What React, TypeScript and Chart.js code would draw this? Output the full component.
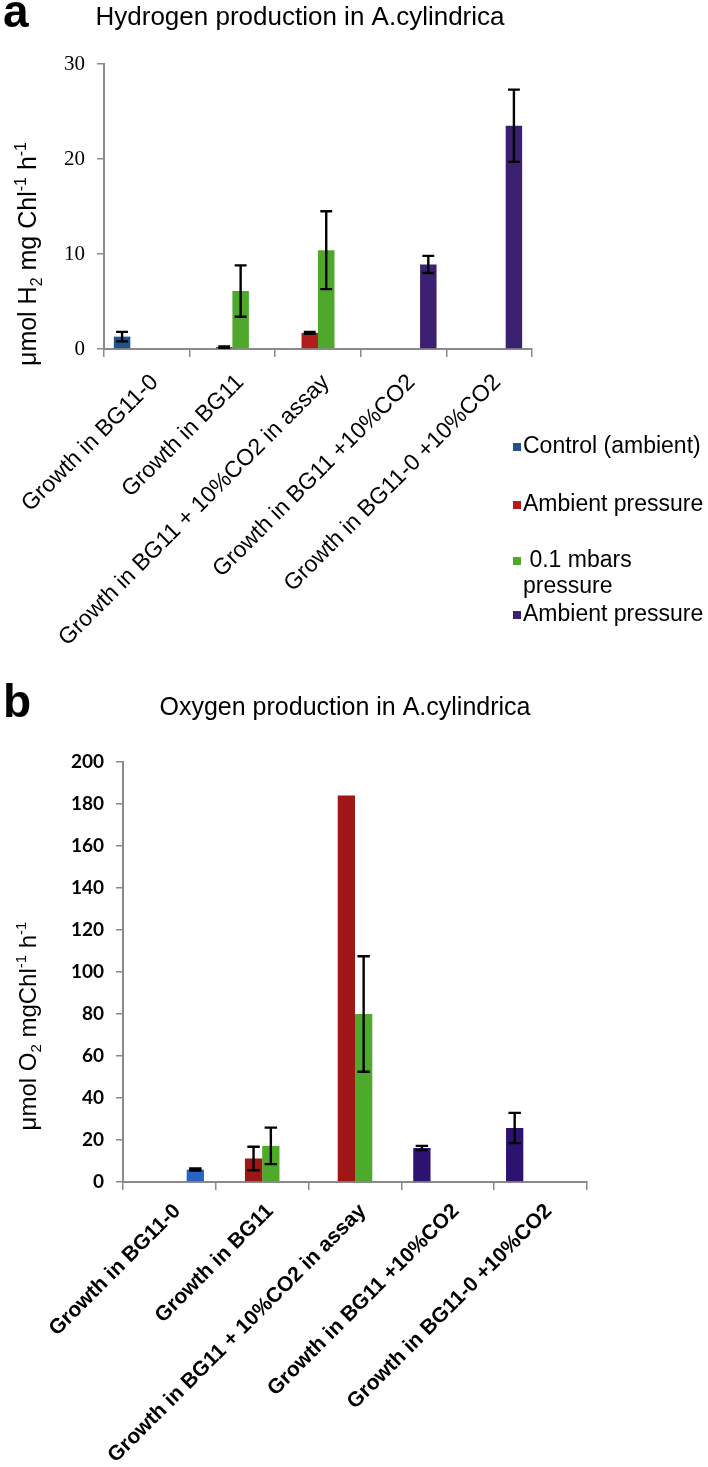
import React, { useEffect, useRef } from "react";
import { Chart, registerables } from "chart.js";

Chart.register(...registerables);

// ---------- data ----------
const categories = [
  "Growth in BG11-0",
  "Growth in BG11",
  "Growth in BG11 + 10%CO2 in assay",
  "Growth in BG11 +10%CO2",
  "Growth in BG11-0 +10%CO2",
];

const seriesLabels = ["Control (ambient)", "Ambient pressure", " 0.1 mbars\npressure", "Ambient pressure"];

// Panel a: hydrogen production (µmol H2 mg Chl-1 h-1)
const h2Control = [1.3, null, null, null, null];
const h2ControlErr = [0.5, null, null, null, null];
const h2Ambient = [null, 0.2, 1.7, null, null];
const h2AmbientErr = [null, 0.08, 0.1, null, null];
const h2LowPressure = [null, 6.1, 10.4, null, null];
const h2LowPressureErr = [null, 2.7, 4.1, null, null];
const h2Co2Ambient = [null, null, null, 8.9, 23.5];
const h2Co2AmbientErr = [null, null, null, 0.9, 3.8];

// Panel b: oxygen production (µmol O2 mgChl-1 h-1)
const o2Control = [5.9, null, null, null, null];
const o2ControlErr = [0.5, null, null, null, null];
const o2Ambient = [null, 11.2, 184, null, null];
const o2AmbientErr = [null, 5.6, 0, null, null];
const o2LowPressure = [null, 17.2, 80, null, null];
const o2LowPressureErr = [null, 8.7, 27.5, null, null];
const o2Co2Ambient = [null, null, null, 16.2, 25.7];
const o2Co2AmbientErr = [null, null, null, 1.0, 7.2];

const yTicksA = [0, 10, 20, 30];
const yTicksB = [0, 20, 40, 60, 80, 100, 120, 140, 160, 180, 200];

const panelLetterA = "a";
const panelLetterB = "b";
const titleA = "Hydrogen production in A.cylindrica";
const titleB = "Oxygen production in A.cylindrica";

type Seg = { t: string; k?: "sub" | "sup" };
const yTitleA: Seg[] = [
  { t: "μmol H" }, { t: "2", k: "sub" }, { t: " mg Chl" }, { t: "-1", k: "sup" }, { t: " h" }, { t: "-1", k: "sup" },
];
const yTitleB: Seg[] = [
  { t: "μmol O" }, { t: "2", k: "sub" }, { t: " mgChl" }, { t: "-1", k: "sup" }, { t: " h" }, { t: "-1", k: "sup" },
];

// ---------- styles ----------
const SANS = '"Liberation Sans", Arial, sans-serif';
const SERIF = '"Liberation Serif", "Times New Roman", serif';
const colorsA = ["#22528c", "#b11d1d", "#4ea82b", "#3c2072"];
const colorsB = ["#2863c6", "#9e1616", "#4daa2a", "#2e1272"];
const AXIS_GREY = "#8a8a8a";

function errorBars(errors: (number | null)[][]) {
  return {
    id: "errorBars",
    afterDatasetsDraw(chart: any) {
      const ctx = chart.ctx;
      const y = chart.scales.y;
      ctx.save();
      ctx.strokeStyle = "#000";
      ctx.lineWidth = 2.4;
      chart.data.datasets.forEach((ds: any, i: number) => {
        const meta = chart.getDatasetMeta(i);
        meta.data.forEach((bar: any, j: number) => {
          const v = ds.data[j];
          const e = errors[i][j];
          if (v == null || !e) return;
          const x = bar.x;
          const hw = bar.width * 0.36;
          const top = y.getPixelForValue(v + e);
          const bot = y.getPixelForValue(Math.max(v - e, 0));
          ctx.beginPath();
          ctx.moveTo(x, top);
          ctx.lineTo(x, bot);
          ctx.moveTo(x - hw, top);
          ctx.lineTo(x + hw, top);
          ctx.moveTo(x - hw, bot);
          ctx.lineTo(x + hw, bot);
          ctx.stroke();
        });
      });
      ctx.restore();
    },
  };
}

function drawRich(ctx: CanvasRenderingContext2D, segs: Seg[], size: number, weight: string, bx: number, cy: number) {
  ctx.save();
  ctx.translate(bx, cy);
  ctx.rotate(-Math.PI / 2);
  ctx.textAlign = "left";
  ctx.textBaseline = "alphabetic";
  const fontFor = (k?: string) => `${weight} ${k ? Math.round(size * 0.62) : size}px ${SANS}`;
  let total = 0;
  segs.forEach((s) => {
    ctx.font = fontFor(s.k);
    total += ctx.measureText(s.t).width;
  });
  let x = -total / 2;
  segs.forEach((s) => {
    ctx.font = fontFor(s.k);
    const dy = s.k === "sub" ? size * 0.22 : s.k === "sup" ? -size * 0.4 : 0;
    ctx.fillText(s.t, x, dy);
    x += ctx.measureText(s.t).width;
  });
  ctx.restore();
}

function decor(draw: (ctx: CanvasRenderingContext2D) => void) {
  return {
    id: "decor",
    afterDraw(chart: any) {
      const ctx = chart.ctx;
      ctx.save();
      ctx.fillStyle = "#000";
      draw(ctx);
      ctx.restore();
    },
  };
}

function drawA(ctx: CanvasRenderingContext2D) {
  ctx.textAlign = "left";
  ctx.textBaseline = "alphabetic";
  ctx.font = `bold 46px ${SANS}`;
  ctx.fillText(panelLetterA, 3, 27);
  ctx.font = `26px ${SANS}`;
  ctx.textAlign = "center";
  ctx.fillText(titleA, 300, 25);
  drawRich(ctx, yTitleA, 25, "normal", 36, 254);
  // legend
  const rowY = [447, 505, 561, 615];
  ctx.textAlign = "left";
  ctx.textBaseline = "middle";
  ctx.font = `23px ${SANS}`;
  seriesLabels.forEach((lab, i) => {
    ctx.fillStyle = colorsA[i];
    ctx.fillRect(513, rowY[i] - 4, 8, 8);
    ctx.fillStyle = "#000";
    lab.split("\n").forEach((line, k) => ctx.fillText(line, 523, rowY[i] + k * 26));
  });
}

function drawB(ctx: CanvasRenderingContext2D) {
  ctx.textAlign = "left";
  ctx.textBaseline = "alphabetic";
  ctx.font = `bold 46px ${SANS}`;
  ctx.fillText(panelLetterB, 3, 37);
  ctx.font = `25px ${SANS}`;
  ctx.textAlign = "center";
  ctx.fillText(titleB, 345, 35);
  drawRich(ctx, yTitleB, 24, "normal", 36, 346);
}

function makeConfig(opts: {
  datasets: any[];
  errors: (number | null)[][];
  catPct: number;
  padding: any;
  xHeight: number;
  yWidth: number;
  yMax: number;
  yStep: number;
  yTicks: number[];
  xFont: any;
  xPad: number;
  yFont: any;
  draw: (ctx: CanvasRenderingContext2D) => void;
}) {
  return {
    type: "bar" as const,
    data: { labels: categories, datasets: opts.datasets },
    options: {
      animation: false,
      responsive: false,
      devicePixelRatio: 1,
      layout: { padding: opts.padding },
      datasets: { bar: { categoryPercentage: opts.catPct, barPercentage: 1 } },
      plugins: { legend: { display: false }, tooltip: { enabled: false }, title: { display: false } },
      scales: {
        x: {
          type: "category",
          offset: true,
          grid: {
            display: true,
            drawOnChartArea: false,
            drawTicks: true,
            tickLength: 8,
            color: AXIS_GREY,
            lineWidth: 1.5,
            offset: true,
          },
          border: { display: true, color: AXIS_GREY, width: 2 },
          ticks: {
            autoSkip: false,
            minRotation: 45,
            maxRotation: 45,
            color: "#000",
            font: opts.xFont,
            padding: opts.xPad,
            labelOffset: 8,
          },
          afterFit: (s: any) => {
            s.height = opts.xHeight;
            s.paddingLeft = 0;
            s.paddingRight = 0;
          },
        },
        y: {
          min: 0,
          max: opts.yMax,
          afterBuildTicks: (s: any) => {
            s.ticks = opts.yTicks.map((v) => ({ value: v }));
          },
          grid: { drawOnChartArea: false, drawTicks: true, tickLength: 7, color: AXIS_GREY, lineWidth: 1.5 },
          border: { display: true, color: AXIS_GREY, width: 2 },
          ticks: { color: "#000", font: opts.yFont, padding: 12, stepSize: opts.yStep },
          afterFit: (s: any) => {
            s.width = opts.yWidth;
          },
        },
      },
    },
    plugins: [errorBars(opts.errors), decor(opts.draw)],
  };
}

export default function App() {
  const refA = useRef<HTMLCanvasElement>(null);
  const refB = useRef<HTMLCanvasElement>(null);

  useEffect(() => {
    const chartA = new Chart(
      refA.current!,
      makeConfig({
        datasets: [
          { label: seriesLabels[0], data: h2Control, backgroundColor: colorsA[0] },
          { label: seriesLabels[1], data: h2Ambient, backgroundColor: colorsA[1] },
          { label: seriesLabels[2], data: h2LowPressure, backgroundColor: colorsA[2] },
          { label: seriesLabels[3], data: h2Co2Ambient, backgroundColor: colorsA[3] },
        ],
        errors: [h2ControlErr, h2AmbientErr, h2LowPressureErr, h2Co2AmbientErr],
        catPct: 0.77,
        padding: { top: 64, right: 176, left: 0, bottom: 0 },
        xHeight: 351,
        yWidth: 104,
        yMax: 30,
        yStep: 10,
        yTicks: yTicksA,
        xFont: { family: SANS, size: 23 },
        xPad: 12,
        yFont: { family: SERIF, size: 21 },
        draw: drawA,
      }) as any
    );
    const chartB = new Chart(
      refB.current!,
      makeConfig({
        datasets: [
          { label: seriesLabels[3], data: o2Co2Ambient, backgroundColor: colorsB[3] },
          { label: seriesLabels[1], data: o2Ambient, backgroundColor: colorsB[1] },
          { label: seriesLabels[2], data: o2LowPressure, backgroundColor: colorsB[2] },
          { label: seriesLabels[0], data: o2Control, backgroundColor: colorsB[0] },
        ],
        errors: [o2Co2AmbientErr, o2AmbientErr, o2LowPressureErr, o2ControlErr],
        catPct: 0.745,
        padding: { top: 82, right: 121, left: 0, bottom: 0 },
        xHeight: 285,
        yWidth: 123,
        yMax: 200,
        yStep: 20,
        yTicks: yTicksB,
        xFont: { family: SANS, size: 21, weight: "bold" },
        xPad: 9,
        yFont: { family: "Lato, sans-serif", size: 19, weight: "bold" },
        draw: drawB,
      }) as any
    );
    return () => {
      chartA.destroy();
      chartB.destroy();
    };
  }, []);

  return (
    <div style={{ position: "absolute", left: 0, top: 0, width: 708, height: 1467, background: "#fff" }}>
      <canvas ref={refA} width={708} height={700} style={{ position: "absolute", left: 0, top: 0 }} />
      <canvas ref={refB} width={708} height={787} style={{ position: "absolute", left: 0, top: 680 }} />
    </div>
  );
}
